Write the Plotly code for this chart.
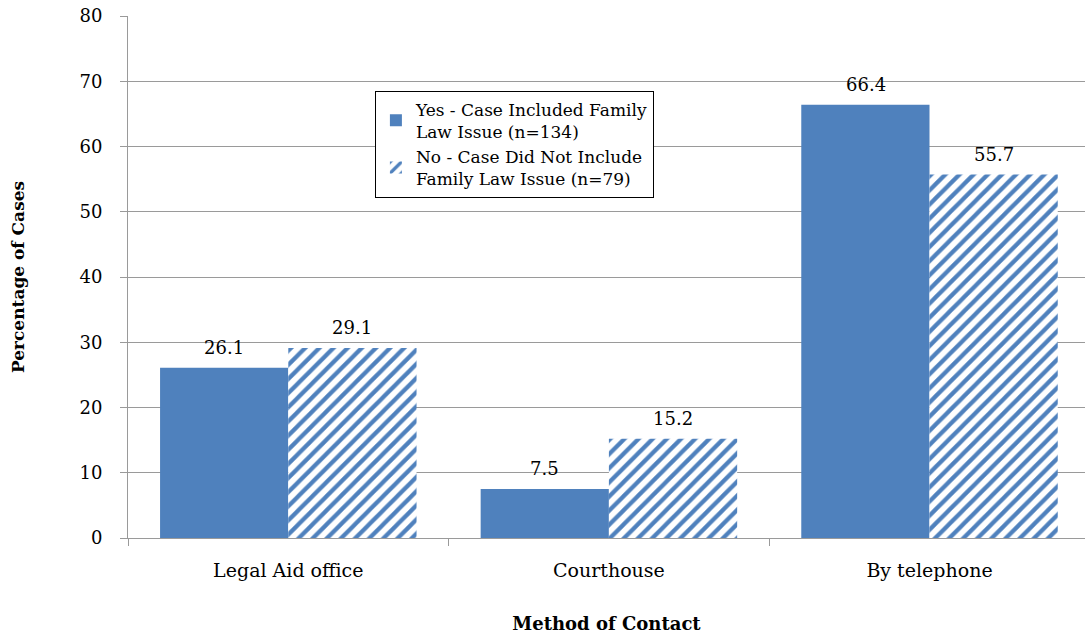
import plotly.graph_objects as go

categories = ["Legal Aid office", "Courthouse", "By telephone"]
yes_family = [26.1, 7.5, 66.4]
no_family = [29.1, 15.2, 55.7]
series_names = [
    "Yes - Case Included Family<br>Law Issue (n=134)",
    "No - Case Did Not Include<br>Family Law Issue (n=79)",
]
y_ticks = [0, 10, 20, 30, 40, 50, 60, 70, 80]

BLUE = "#4F81BD"
GRID = "#9A9A9A"
FONT = "DejaVu Serif"

fig = go.Figure()
fig.add_trace(go.Bar(
    name=series_names[0], x=categories, y=yes_family,
    marker=dict(color=BLUE, line=dict(width=0)),
))
fig.add_trace(go.Bar(
    name=series_names[1], x=categories, y=no_family,
    marker=dict(color="white", line=dict(width=0),
                pattern=dict(shape="/", fgcolor=BLUE, bgcolor="white",
                             size=10, solidity=0.42, fillmode="replace")),
))

# value labels above each bar (bars are offset by 0.2 of a category from its centre)
for vals, shift in ((yes_family, -64), (no_family, 64)):
    for cat, v in zip(categories, vals):
        fig.add_annotation(
            x=cat, y=v, xshift=shift, yshift=8, text=f"{v:.1f}",
            showarrow=False, yanchor="bottom",
            font=dict(size=18, color="black", family=FONT),
        )

fig.update_layout(
    width=1085, height=634,
    margin=dict(l=128, r=0, t=16, b=96),
    paper_bgcolor="white", plot_bgcolor="white",
    font=dict(family=FONT, size=18, color="black"),
    barmode="group", bargap=0.2, bargroupgap=0,
    showlegend=True,
    legend=dict(
        x=0.258, y=0.857, xanchor="left", yanchor="top",
        bgcolor="white", bordercolor="black", borderwidth=1,
        font=dict(size=17, family=FONT), tracegroupgap=2,
        itemwidth=30,
    ),
)
fig.update_xaxes(
    range=[-0.5, 2.485], showgrid=False,
    showline=True, linecolor=GRID, linewidth=1,
    ticks="outside", tickson="boundaries", ticklen=7, tickcolor=GRID,
    tickfont=dict(size=19), ticklabelstandoff=15,
    title=dict(text="<b>Method of Contact</b>", font=dict(size=18), standoff=38),
)
fig.update_yaxes(
    range=[0, 80], tickvals=y_ticks, showgrid=True, gridcolor=GRID, gridwidth=1,
    showline=True, linecolor=GRID, linewidth=1, zeroline=False,
    ticks="outside", ticklen=7, tickcolor=GRID,
    tickfont=dict(size=18), ticklabelstandoff=14,
    title=dict(text="<b>Percentage of Cases</b>", font=dict(size=17), standoff=50),
)

fig.write_html("out.html")
